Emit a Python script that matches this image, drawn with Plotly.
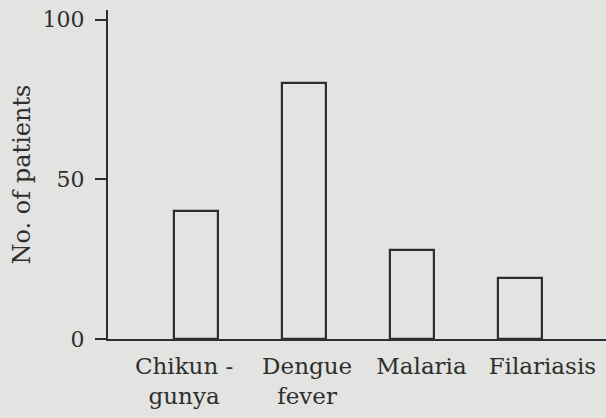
import plotly.graph_objects as go

categories = ["Chikun -<br>gunya", "Dengue<br>fever", "Malaria", "Filariasis"]
patients = [40, 80, 28, 19]
y_ticks = [0, 50, 100]

# small horizontal nudges of the hand-set labels relative to their bars (category units)
label_nudge = [-0.11, 0.03, 0.09, 0.21]

ink = "#2e2e2e"
paper = "#e3e3e1"
font = dict(family="DejaVu Serif, Liberation Serif, serif", size=22, color=ink)

xs = list(range(len(categories)))

fig = go.Figure(go.Bar(
    x=xs,
    y=patients,
    width=0.41,
    marker=dict(color="rgba(0,0,0,0)", line=dict(color=ink, width=2.2)),
    hoverinfo="skip",
))

fig.update_layout(
    width=606, height=418,
    margin=dict(l=108, r=0, t=10, b=79),
    paper_bgcolor=paper, plot_bgcolor=paper,
    font=font,
    showlegend=False,
    bargap=0,
)
fig.update_xaxes(
    range=[-0.815, 3.8],
    tickvals=[x + d for x, d in zip(xs, label_nudge)],
    ticktext=categories,
    tickfont=dict(size=23),
    showline=True, linecolor=ink, linewidth=2.2,
    showgrid=False, zeroline=False,
    ticks="",
    ticklabelstandoff=5,
    automargin=False,
)
fig.update_yaxes(
    range=[0, 103],
    tickvals=y_ticks,
    tickfont=dict(size=22),
    showline=True, linecolor=ink, linewidth=2.2,
    showgrid=False, zeroline=False,
    ticks="outside", ticklen=11, tickwidth=2, tickcolor=ink,
    ticklabelstandoff=6,
    title=dict(text="No. of patients", standoff=5, font=dict(size=24)),
    automargin=False,
)

fig.write_html(
    "out.html",
    config={"displayModeBar": False},
    post_script="document.body.style.margin='0';document.body.style.background='%s';" % paper,
)
